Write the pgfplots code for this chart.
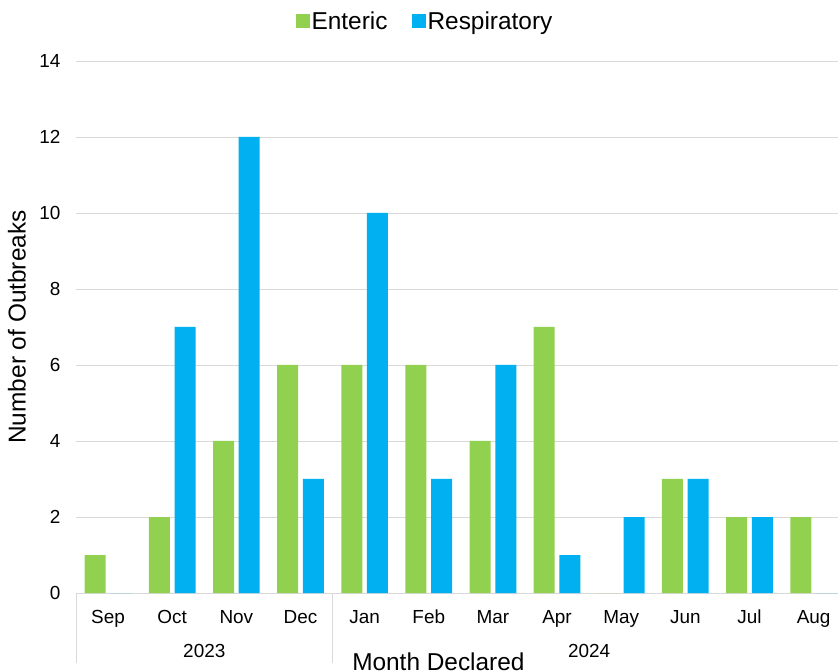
\documentclass[border=0pt]{standalone}
\usepackage{fontspec}
\setmainfont{Liberation Sans}
\usepackage{pgfplots}
\pgfplotsset{compat=1.18}
\definecolor{enteric}{HTML}{92D050}
\definecolor{resp}{HTML}{00B0F0}
\definecolor{gridc}{HTML}{D9D9D9}
\begin{document}
\begin{tikzpicture}
\clip (-76bp,-78bp) rectangle (762bp,593bp);
\begin{axis}[
  at={(0,0)}, anchor=south west,
  scale only axis, width=762bp, height=532bp,
  xmin=-0.5, xmax=11.38, ymin=0, ymax=14,
  enlargelimits=false, clip=false,
  ybar=4.7bp, bar width=21bp,
  axis line style={draw=none},
  major tick length=0pt,
  ytick={0,2,...,14},
  ymajorgrids, grid style={gridc, line width=0.8bp},
  xtick={0,...,11},
  xticklabels={Sep,Oct,Nov,Dec,Jan,Feb,Mar,Apr,May,Jun,Jul,Aug},
  /pgf/number format/assume math mode=true,
  tick label style={font=\fontsize{19}{22}\selectfont},
  xticklabel style={anchor=base, yshift=-30bp},
  yticklabel style={anchor=east, xshift=-12bp},
  legend columns=2,
  legend style={draw=none, fill=none, font=\fontsize{24.5}{28}\selectfont,
    at={(axis description cs:0.458,1.0752)}, anchor=center,
    inner sep=0pt, nodes={inner sep=2bp},
    /tikz/every even column/.append style={column sep=22bp}},
  legend image code/.code={\fill[#1] (0bp,-7bp) rectangle (14bp,7bp);},
]
\addplot[fill=enteric, draw=none] coordinates {(0,1) (1,2) (2,4) (3,6) (4,6) (5,6) (6,4) (7,7) (8,0) (9,3) (10,2) (11,2)};
\addplot[fill=resp, draw=none] coordinates {(0,0) (1,7) (2,12) (3,3) (4,10) (5,3) (6,6) (7,1) (8,2) (9,3) (10,2) (11,0)};
\legend{Enteric,Respiratory}
\draw[gridc, line width=0.8bp] (axis cs:-0.5,0) -- ([yshift=-70bp]axis cs:-0.5,0);
\draw[gridc, line width=0.8bp] (axis cs:3.5,0) -- ([yshift=-70bp]axis cs:3.5,0);
\node[font=\fontsize{19}{22}\selectfont] at ([yshift=-58bp]axis cs:1.5,0) {2023};
\node[font=\fontsize{19}{22}\selectfont] at ([yshift=-58bp]axis cs:7.5,0) {2024};
\node[font=\fontsize{24.5}{28}\selectfont, anchor=base] at ([yshift=-77bp]axis cs:5.15,0) {Month Declared};
\node[font=\fontsize{24.5}{28}\selectfont, rotate=90] at ([xshift=-59bp]axis cs:-0.5,7) {Number of Outbreaks};
\end{axis}
\end{tikzpicture}
\end{document}
